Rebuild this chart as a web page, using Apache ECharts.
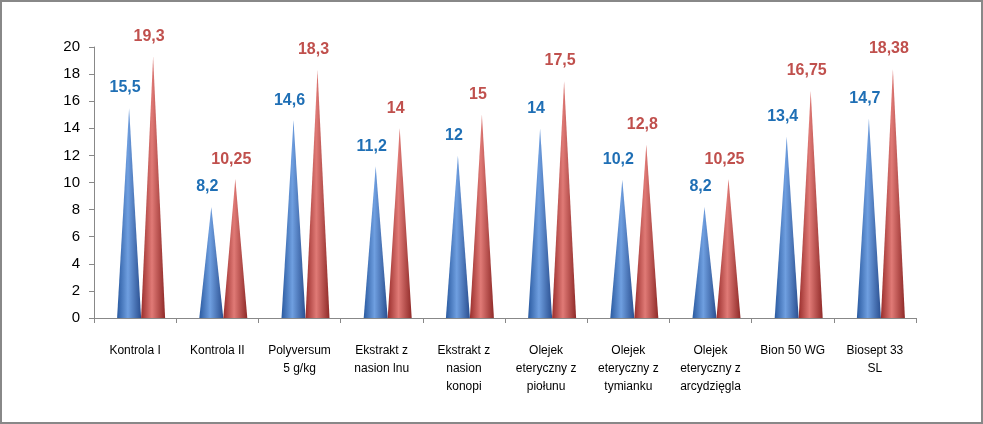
<!DOCTYPE html>
<html><head><meta charset="utf-8">
<script src="https://cdn.jsdelivr.net/npm/echarts@6/dist/echarts.min.js"></script>
<style>html,body{margin:0;padding:0;background:#fff}#c{width:983px;height:424px;box-sizing:border-box;border:2px solid #888}</style>
</head><body><div id="c"></div>
<script>
const categories = ['Kontrola I','Kontrola II','Polyversum\n5 g/kg','Ekstrakt z\nnasion lnu','Ekstrakt z\nnasion\nkonopi','Olejek\neteryczny z\npiołunu','Olejek\neteryczny z\ntymianku','Olejek\neteryczny z\narcydzięgla','Bion 50 WG','Biosept 33\nSL'];
const blueValues = [15.5, 8.2, 14.6, 11.2, 12, 14, 10.2, 8.2, 13.4, 14.7];
const redValues = [19.3, 10.25, 18.3, 14, 15, 17.5, 12.8, 10.25, 16.75, 18.38];
const fmt = v => String(v.value).replace('.', ',');
function grad(a,b,c){return {type:'linear',x:0,y:0,x2:1,y2:0,colorStops:[{offset:0,color:a},{offset:0.45,color:b},{offset:1,color:c}]};}
const chart = echarts.init(document.getElementById('c'));
chart.setOption({
  animation:false,
  grid:{left:92,right:65,top:45,bottom:104},
  xAxis:{type:'category',data:categories,axisTick:{show:true,alignWithLabel:false,lineStyle:{color:'#888'}},axisLine:{lineStyle:{color:'#888'}},
    axisLabel:{interval:0,color:'#000',fontSize:12,lineHeight:18,fontFamily:'Liberation Sans',margin:24}},
  yAxis:{type:'value',min:0,max:20,interval:2,splitLine:{show:false},axisLine:{show:true,lineStyle:{color:'#888'}},axisTick:{show:true,lineStyle:{color:'#888'}},
    axisLabel:{color:'#000',fontSize:15,fontFamily:'Liberation Sans',margin:14}},
  series:[
    {type:'pictorialBar',symbol:'triangle',barWidth:24,barGap:'0%',symbolOffset:[6,0],data:blueValues,
     itemStyle:{color:grad('#2a5aa0','#6f9fe0','#2a4f90')},
     label:{show:true,position:'top',distance:12,offset:[2,0],color:'#1f6fb5',fontSize:16,fontWeight:'bold',fontFamily:'Liberation Sans',formatter:fmt}},
    {type:'pictorialBar',symbol:'triangle',barWidth:24,barGap:'0%',symbolOffset:[6,0],data:redValues,
     itemStyle:{color:grad('#9a2e2c','#e07a76','#8f2a28')},
     label:{show:true,position:'top',distance:12,offset:[2,0],color:'#c0504d',fontSize:16,fontWeight:'bold',fontFamily:'Liberation Sans',formatter:fmt}}
  ]
});
</script></body></html>
